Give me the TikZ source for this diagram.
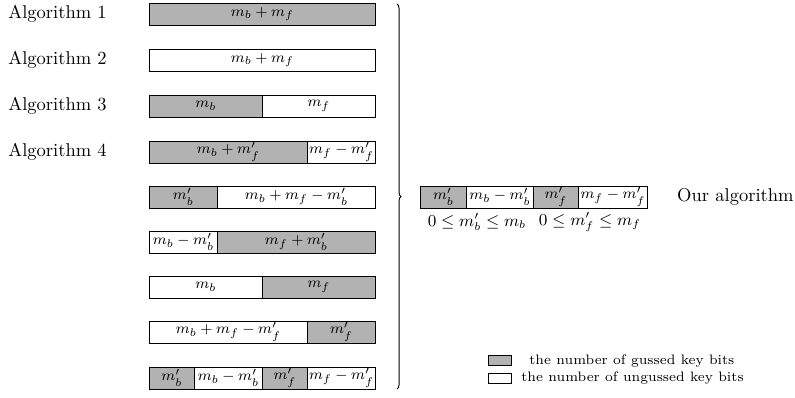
\documentclass[tikz,border=0pt]{standalone}
\usetikzlibrary{decorations.pathreplacing}
\begin{document}
\begin{tikzpicture}[x=0.54pt,y=-0.54pt,
  seg/.style={draw, line width=0.5pt, inner sep=0pt, anchor=west,
    minimum height=22*0.54pt, font=\footnotesize},
  gseg/.style={seg, fill=gray!60},
  wseg/.style={seg, fill=white},
  algname/.style={anchor=west, inner sep=0pt},
  bound/.style={inner sep=0pt, font=\small},
  legtext/.style={anchor=west, inner sep=0pt, font=\fontsize{7.4}{9}\selectfont}]
\useasboundingbox (0,0) rectangle (795,397);

% names of the algorithms
\node[algname] (a1) at (8,14)  {Algorithm 1};
\node[algname] (a2) at (8,60)  {Algorithm 2};
\node[algname] (a3) at (8,106) {Algorithm 3};
\node[algname] (a4) at (8,152) {Algorithm 4};

% row 1
\node[gseg, minimum width=226*0.54pt] (r1a) at (149,14) {$m_b+m_f$};
% row 2
\node[wseg, minimum width=226*0.54pt] (r2a) at (149,60) {$m_b+m_f$};
% row 3
\node[gseg, minimum width=113*0.54pt] (r3a) at (149,106) {$m_b$};
\node[wseg, minimum width=113*0.54pt] (r3b) at (262,106) {$m_f$};
% row 4
\node[gseg, minimum width=158*0.54pt] (r4a) at (149,152) {$m_b+m_f'$};
\node[wseg, minimum width=68*0.54pt]  (r4b) at (307,152) {$m_f-m_f'$};
% row 5
\node[gseg, minimum width=68*0.54pt]  (r5a) at (149,197) {$m_b'$};
\node[wseg, minimum width=158*0.54pt] (r5b) at (217,197) {$m_b+m_f-m_b'$};
% row 6
\node[wseg, minimum width=68*0.54pt]  (r6a) at (149,242) {$m_b-m_b'$};
\node[gseg, minimum width=158*0.54pt] (r6b) at (217,242) {$m_f+m_b'$};
% row 7
\node[wseg, minimum width=113*0.54pt] (r7a) at (149,287) {$m_b$};
\node[gseg, minimum width=113*0.54pt] (r7b) at (262,287) {$m_f$};
% row 8
\node[wseg, minimum width=158*0.54pt] (r8a) at (149,332) {$m_b+m_f-m_f'$};
\node[gseg, minimum width=68*0.54pt]  (r8b) at (307,332) {$m_f'$};
% row 9
\node[gseg, minimum width=45*0.54pt] (r9a) at (149,378) {$m_b'$};
\node[wseg, minimum width=68*0.54pt] (r9b) at (194,378) {$m_b-m_b'$};
\node[gseg, minimum width=45*0.54pt] (r9c) at (262,378) {$m_f'$};
\node[wseg, minimum width=68*0.54pt] (r9d) at (307,378) {$m_f-m_f'$};

% brace gathering all rows
\coordinate (bt) at (397,4);
\coordinate (bb) at (397,389);
\draw[line width=0.5pt, decorate, decoration={brace, amplitude=2.2pt}] (bt) -- (bb);

% our algorithm
\node[gseg, minimum width=46*0.54pt] (o1) at (420,197) {$m_b'$};
\node[wseg, minimum width=67*0.54pt] (o2) at (466,197) {$m_b-m_b'$};
\node[gseg, minimum width=45*0.54pt] (o3) at (533,197) {$m_f'$};
\node[wseg, minimum width=69*0.54pt] (o4) at (578,197) {$m_f-m_f'$};
\node[bound] (c1) at (477,222) {$0\le m_b'\le m_b$};
\node[bound] (c2) at (590,222) {$0\le m_f'\le m_f$};
\node[anchor=east, inner sep=0pt] (ours) at (794,197) {Our algorithm};

% legend
\node[draw, line width=0.5pt, fill=gray!60, inner sep=0pt,
  minimum width=23*0.54pt, minimum height=10*0.54pt] (lg) at (500,360) {};
\node[draw, line width=0.5pt, fill=white, inner sep=0pt,
  minimum width=23*0.54pt, minimum height=10*0.54pt] (lw) at (500,378) {};
\node[legtext] (tg) at (529,361) {the number of gussed key bits};
\node[legtext] (tw) at (521,378) {the number of ungussed key bits};
\end{tikzpicture}
\end{document}
